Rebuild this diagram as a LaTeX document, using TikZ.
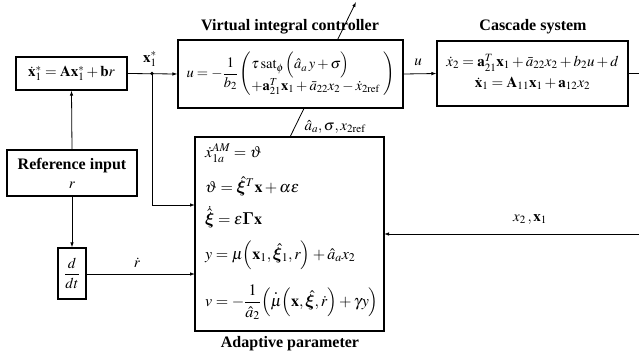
\documentclass[tikz,border=0pt]{standalone}
\usepackage{amsmath,bm}
\usepackage{mathptmx}
\usepackage[no-math]{fontspec}
\setmainfont{Liberation Serif}
\usetikzlibrary{arrows.meta,calc}
\begin{document}
\begin{tikzpicture}[x=1pt,y=-1pt,
  every node/.style={font=\fontsize{15}{18}\selectfont, inner sep=0pt},
  blk/.style={draw, fill=white, line width=1.1pt, rectangle, align=center},
  ttl/.style={font=\fontsize{16}{19}\selectfont\bfseries},
  conn/.style={line width=0.8pt},
  arr/.style={conn, -{Latex[length=5pt,width=3.5pt]}},
  eqn/.style={anchor=west, font=\fontsize{16}{19}\selectfont}]
\useasboundingbox (0,0) rectangle (639,356);

% adjustable-parameter arrow (drawn first, hidden behind the controller box)
\coordinate (dg1) at (290,137);
\coordinate (dg2) at (356,2);
\draw[arr] (dg1) -- (dg2);

% blocks
\node[blk, minimum width=111pt, minimum height=33pt] (ref1) at (71.5,73.5)
  {$\dot{\mathbf x}_1^* = \mathbf{A}\mathbf x_1^* + \mathbf b r$};
\node[blk, minimum width=225pt, minimum height=68pt, font=\fontsize{14.5}{17}\selectfont] (ctrl) at (290.5,74)
  {$u=-\dfrac{1}{b_2}\left(\begin{array}{@{}l@{}}\tau\,\mathrm{sat}_{\phi}\,\Bigl(\hat a_a\,y+\sigma\Bigr)\\[1pt]
   +\mathbf a_{21}^T\mathbf x_1+\bar a_{22}x_2-\dot x_{2\mathrm{ref}}\end{array}\;\right)$};
\node[blk, minimum width=191pt, minimum height=65pt] (casc) at (532.5,73.5)
  {$\begin{array}{c}\dot x_2=\mathbf a_{21}^T\mathbf x_1+\bar a_{22}x_2+b_2u+d\\[3pt]
   \dot{\mathbf x}_1=\mathbf A_{11}\mathbf x_1+\mathbf a_{12}x_2\end{array}$};
\node[blk, minimum width=130pt, minimum height=46pt] (refin) at (72,173)
  {\textbf{\fontsize{16}{19}\selectfont Reference input}\\[1pt]$r$};
\node[blk, minimum width=28pt, minimum height=51pt] (ddt) at (72,273.5)
  {$\dfrac{d}{dt}$};
\node[blk, minimum width=189pt, minimum height=194pt] (adapt) at (289.5,234) {};

% titles
\node[ttl] (tctrl) at (290,27) {Virtual integral controller};
\node[ttl] (tcasc) at (533,27) {Cascade system};
\node[ttl] (tadapt) at (290,344) {Adaptive parameter};

% adaptive equations
\node[eqn] (e1) at (205,153) {$\dot x_{1a}^{AM}=\vartheta$};
\node[eqn] (e2) at (205,186) {$\vartheta=\hat{\bm\xi}^{T}\mathbf x+\alpha\varepsilon$};
\node[eqn] (e3) at (205,217) {$\dot{\hat{\bm\xi}}=\varepsilon\bm\Gamma\mathbf x$};
\node[eqn] (e4) at (205,255) {$y=\mu\Bigl(\mathbf x_1,\hat{\bm\xi}_1,r\Bigr)+\hat a_a x_2$};
\node[eqn] (e5) at (205,302) {$v=-\dfrac{1}{\hat a_2}\Bigl(\overset{\bm .}{\mu}\Bigl(\mathbf x,\hat{\bm\xi},\dot r\Bigr)+\gamma y\Bigr)$};

% coordinates
\coordinate (J) at (152,73.5);
\coordinate (a1) at (195,205);
\coordinate (a2) at (195,274);
\coordinate (outR) at (639,73.5);
\coordinate (fbR) at (639,234);
\coordinate (fbL) at (384,234);

% connectors
\draw[arr] (ref1.east) -- (ctrl.west);
\fill (J) circle (1.8pt);
\node (lx) at (150,59) {$\mathbf x_1^*$};
\draw[arr] (J) |- (a1);
\draw[arr] (refin.north) -- (ref1.south);
\draw[arr] (refin.south) -- (ddt.north);
\draw[arr] (ddt.east |- a2) -- (a2);
\node (lrdot) at (137,263) {$\dot r$};
\draw[arr] (ctrl.east) -- (casc.west);
\node (lu) at (418,62) {$u$};
\draw[conn] (casc.east) -- (outR);
\draw[arr] (fbR) -- (fbL);
\node (lfb) at (530,219) {$x_2\,,\mathbf x_1$};
\node (ldg) at (335,127) {$\hat a_a,\sigma,x_{2\mathrm{ref}}$};
\end{tikzpicture}
\end{document}
